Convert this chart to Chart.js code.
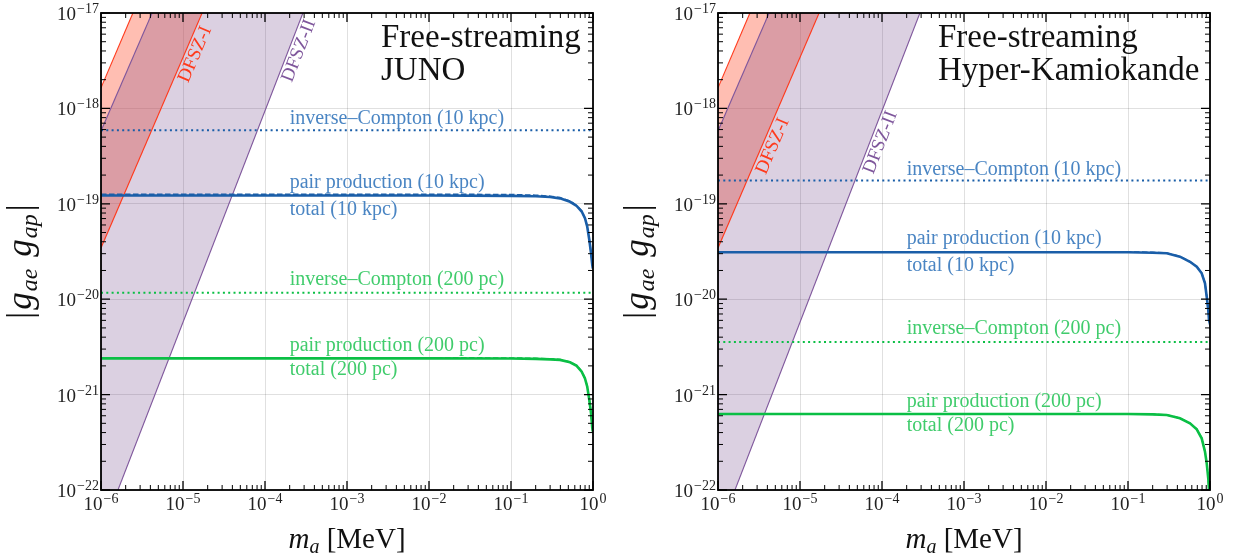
<!DOCTYPE html>
<html><head><meta charset="utf-8">
<script src="https://cdn.jsdelivr.net/npm/chart.js@4.4.1/dist/chart.umd.min.js"></script>
<style>
html,body{margin:0;padding:0;background:#fff;}
#wrap{position:relative;width:1237px;height:558px;overflow:hidden;}
canvas{position:absolute;top:0;}
</style></head><body>
<div id="wrap">
<canvas id="c1" width="618" height="558" style="left:0"></canvas>
<canvas id="c2" width="619" height="558" style="left:618px"></canvas>
</div>
<script>
// ---------- axis ticks ----------
const xTicks = [1e-6, 1e-5, 1e-4, 1e-3, 1e-2, 1e-1, 1];
const yTicks = [1e-22, 1e-21, 1e-20, 1e-19, 1e-18, 1e-17];

// ---------- DFSZ band boundaries (m [MeV], |g_ae g_ap|) ----------
const dfsz1UpperM = [1e-6, 2.45e-6];
const dfsz1UpperG = [1.64e-18, 1e-17];
const dfsz1LowerM = [1e-6, 1.71e-5];
const dfsz1LowerG = [3.44e-20, 1e-17];
const dfsz2UpperM = [1e-6, 4.2e-6];
const dfsz2UpperG = [5.8e-19, 1e-17];
const dfsz2LowerM = [1.61e-6, 2.9e-4];
const dfsz2LowerG = [1e-22, 1e-17];

// ---------- JUNO ----------
const junoMass = [1e-6,1e-5,1e-4,1e-3,1e-2,0.1,0.2,0.3,0.396,0.525,0.632,0.728,0.798,0.851,0.901,0.946,0.979,0.995];
const junoTotal10 = [1.22e-19,1.22e-19,1.22e-19,1.22e-19,1.22e-19,1.21e-19,1.20e-19,1.18e-19,1.14e-19,1.05e-19,9.5e-20,8.3e-20,7.05e-20,5.75e-20,4.2e-20,3.05e-20,2.3e-20,2.1e-20];
const junoPair10  = [1.26e-19,1.26e-19,1.26e-19,1.26e-19,1.26e-19,1.25e-19,1.23e-19,1.20e-19,1.16e-19,1.07e-19,9.6e-20,8.4e-20,7.1e-20,5.8e-20,4.25e-20,3.08e-20,2.32e-20,2.12e-20];
const junoTotal200 = [2.40e-21,2.40e-21,2.40e-21,2.40e-21,2.40e-21,2.39e-21,2.37e-21,2.34e-21,2.31e-21,2.18e-21,2.0e-21,1.74e-21,1.48e-21,1.21e-21,8.8e-22,6.4e-22,4.5e-22,4.1e-22];
const junoPair200  = [2.43e-21,2.43e-21,2.43e-21,2.43e-21,2.43e-21,2.42e-21,2.40e-21,2.37e-21,2.33e-21,2.20e-21,2.02e-21,1.75e-21,1.49e-21,1.22e-21,8.9e-22,6.45e-22,4.55e-22,4.12e-22];
const junoICMass = [1e-6, 1e-4, 1e-2, 1];
const junoIC10  = [5.9e-19, 5.9e-19, 5.9e-19, 5.9e-19];
const junoIC200 = [1.17e-20, 1.17e-20, 1.17e-20, 1.17e-20];

// ---------- Hyper-Kamiokande ----------
const hkMass = [1e-6,1e-5,1e-4,1e-3,1e-2,0.1,0.2,0.297,0.43,0.57,0.689,0.792,0.869,0.912,0.953,0.973,0.99];
const hkTotal10 = [3.10e-20,3.10e-20,3.10e-20,3.10e-20,3.10e-20,3.10e-20,3.07e-20,3.03e-20,2.79e-20,2.47e-20,2.19e-20,1.87e-20,1.47e-20,1.06e-20,7.7e-21,6.05e-21,5.7e-21];
const hkPair10  = [3.14e-20,3.14e-20,3.14e-20,3.14e-20,3.14e-20,3.13e-20,3.10e-20,3.05e-20,2.81e-20,2.48e-20,2.20e-20,1.88e-20,1.48e-20,1.07e-20,7.75e-21,6.1e-21,5.75e-21];
const hkTotal200 = [6.26e-22,6.26e-22,6.26e-22,6.26e-22,6.26e-22,6.26e-22,6.2e-22,6.11e-22,5.64e-22,5.0e-22,4.33e-22,3.48e-22,2.52e-22,1.90e-22,1.32e-22,1.0e-22,8.0e-23];
const hkPair200  = [6.3e-22,6.3e-22,6.3e-22,6.3e-22,6.3e-22,6.3e-22,6.23e-22,6.13e-22,5.66e-22,5.02e-22,4.35e-22,3.5e-22,2.53e-22,1.91e-22,1.33e-22,1.0e-22,8.0e-23];
const hkICMass = [1e-6, 1e-4, 1e-2, 1];
const hkIC10  = [1.75e-19, 1.75e-19, 1.75e-19, 1.75e-19];
const hkIC200 = [3.56e-21, 3.56e-21, 3.56e-21, 3.56e-21];

// ---------- text ----------
const labelMass = 2e-4;
const junoTitle = ['Free-streaming', 'JUNO'];
const hkTitle = ['Free-streaming', 'Hyper-Kamiokande'];

// ---------- styling ----------
const FONT = "'Liberation Serif', 'Times New Roman', serif";
const BLUE = '#1a5ea8', BLUE_T = '#4a85c3';
const GREEN = '#0bbf45', GREEN_T = '#40cc6c';
const RED = '#ff3a1c', PURPLE = '#7f579c';

function pts(ms, gs) { return ms.map((m, i) => ({x: m, y: gs[i]})); }
function expOf(v) { return Math.round(Math.log10(v)); }
function expText(n) { return String(n).replace('-', '\u2212'); }
function lineDs(data, color, width, dash, order) {
  return {data, borderColor: color, borderWidth: width, borderDash: dash || [], pointRadius: 0, fill: false, order, borderCapStyle: 'butt'};
}

function buildDatasets(p) {
  const redBand = [...pts(dfsz1UpperM, dfsz1UpperG), ...pts(dfsz1LowerM, dfsz1LowerG).reverse()];
  const purpleBand = [...pts(dfsz2UpperM, dfsz2UpperG), ...pts(dfsz2LowerM, dfsz2LowerG).reverse(), {x: xTicks[0], y: yTicks[0]}];
  return [
    lineDs(pts(p.mass, p.pair10), BLUE, 1.6, [5.5, 2.5], 0),
    lineDs(pts(p.mass, p.total10), BLUE, 2.6, [], 1),
    lineDs(pts(p.icMass, p.ic10), BLUE, 2, [2, 3.3], 2),
    lineDs(pts(p.mass, p.pair200), GREEN, 1.6, [5.5, 2.5], 3),
    lineDs(pts(p.mass, p.total200), GREEN, 2.6, [], 4),
    lineDs(pts(p.icMass, p.ic200), GREEN, 2, [2, 3.3], 5),
    lineDs(pts(dfsz1LowerM, dfsz1LowerG), RED, 1.1, [], 6),
    lineDs(pts(dfsz1UpperM, dfsz1UpperG), RED, 1.1, [], 7),
    lineDs(pts(dfsz2LowerM, dfsz2LowerG), PURPLE, 1.1, [], 8),
    lineDs(pts(dfsz2UpperM, dfsz2UpperG), PURPLE, 1.1, [], 9),
    {data: purpleBand, borderColor: 'transparent', borderWidth: 0, pointRadius: 0, fill: 'shape', backgroundColor: 'rgba(90,40,120,0.22)', order: 10},
    {data: redBand, borderColor: 'transparent', borderWidth: 0, pointRadius: 0, fill: 'shape', backgroundColor: 'rgba(255,99,71,0.42)', order: 11}
  ];
}

// parts: [{t, font, dy, gap}] drawn centred at x
function drawRich(ctx, parts, x, y) {
  let w = 0;
  parts.forEach(p => { ctx.font = p.font; w += ctx.measureText(p.t).width + (p.gap || 0); });
  let cx = x - w / 2;
  parts.forEach(p => { ctx.font = p.font; ctx.fillText(p.t, cx, y + (p.dy || 0)); cx += ctx.measureText(p.t).width + (p.gap || 0); });
}

const TICK_BASE = '19px ' + FONT, TICK_EXP = '14px ' + FONT;
function powerLabel(ctx, v, x, y, align) {
  const b = '10', e = expText(expOf(v));
  ctx.font = TICK_BASE; const wb = ctx.measureText(b).width;
  ctx.font = TICK_EXP; const we = ctx.measureText(e).width;
  const gap = 1;
  let x0 = align === 'right' ? x - wb - gap - we : x - (wb + gap + we) / 2;
  ctx.font = TICK_BASE; ctx.fillText(b, x0, y);
  ctx.font = TICK_EXP; ctx.fillText(e, x0 + wb + gap, y - 7);
}

const decor = {
  id: 'decor',
  afterDatasetsDraw(chart, args, o) {
    const ctx = chart.ctx, a = chart.chartArea, xs = chart.scales.x, ys = chart.scales.y;
    ctx.save();
    // curve labels
    ctx.textAlign = 'left'; ctx.textBaseline = 'alphabetic';
    ctx.font = '20px ' + FONT;
    const lx = xs.getPixelForValue(labelMass);
    o.labels.forEach(l => { ctx.fillStyle = l.color; ctx.fillText(l.text, lx, ys.getPixelForValue(l.g) + l.dy); });
    // DFSZ labels along lines
    o.dfsz.forEach(l => {
      const p0 = {x: xs.getPixelForValue(l.m[0]), y: ys.getPixelForValue(l.gv[0])};
      const p1 = {x: xs.getPixelForValue(l.m[1]), y: ys.getPixelForValue(l.gv[1])};
      const ang = Math.atan2(p1.y - p0.y, p1.x - p0.x);
      const py = ys.getPixelForValue(l.g);
      const t = (py - p0.y) / (p1.y - p0.y);
      const px = p0.x + t * (p1.x - p0.x);
      const d = 15;
      ctx.save();
      ctx.translate(px - Math.sin(ang) * d, py + Math.cos(ang) * d);
      ctx.rotate(ang);
      ctx.font = '19px ' + FONT;
      ctx.fillStyle = l.color;
      ctx.fillText(l.text, 0, 0);
      ctx.restore();
    });
    // title
    ctx.fillStyle = '#111';
    ctx.font = '33px ' + FONT;
    o.title.forEach((t, i) => ctx.fillText(t, a.left + o.titleDx, 47 + i * 33));
    // tick labels
    ctx.fillStyle = '#222';
    xTicks.forEach(v => powerLabel(ctx, v, xs.getPixelForValue(v), a.bottom + 20, 'center'));
    yTicks.forEach(v => powerLabel(ctx, v, a.left - 2, ys.getPixelForValue(v) + 7, 'right'));
    // inward ticks on all sides
    ctx.strokeStyle = '#000';
    const minors = [2,3,4,5,6,7,8,9];
    function tx(v, len, lw) {
      const p = xs.getPixelForValue(v);
      ctx.lineWidth = lw; ctx.beginPath();
      ctx.moveTo(p, a.bottom); ctx.lineTo(p, a.bottom - len);
      ctx.moveTo(p, a.top); ctx.lineTo(p, a.top + len);
      ctx.stroke();
    }
    function ty(v, len, lw) {
      const p = ys.getPixelForValue(v);
      ctx.lineWidth = lw; ctx.beginPath();
      ctx.moveTo(a.left, p); ctx.lineTo(a.left + len, p);
      ctx.moveTo(a.right, p); ctx.lineTo(a.right - len, p);
      ctx.stroke();
    }
    xTicks.forEach((v, i) => { tx(v, 9, 1.3); if (i < xTicks.length - 1) minors.forEach(k => tx(v * k, 5, 1)); });
    yTicks.forEach((v, i) => { ty(v, 9, 1.3); if (i < yTicks.length - 1) minors.forEach(k => ty(v * k, 5, 1)); });
    ctx.lineWidth = 1.8;
    ctx.strokeRect(a.left, a.top, a.right - a.left, a.bottom - a.top);
    ctx.restore();
  },
  afterDraw(chart) {
    const ctx = chart.ctx, a = chart.chartArea;
    ctx.save();
    ctx.fillStyle = '#111'; ctx.textBaseline = 'alphabetic';
    const big = '29px ' + FONT, bigI = 'italic 29px ' + FONT, subI = 'italic 20px ' + FONT;
    drawRich(ctx, [{t:'m', font: bigI}, {t:'a', font: subI, dy: 5}, {t:' [MeV]', font: big}], (a.left + a.right) / 2, 548);
    const yb = '35px ' + FONT, ybI = 'italic 35px ' + FONT, ysI = 'italic 24px ' + FONT;
    ctx.translate(a.left - 70, (a.top + a.bottom) / 2 + 10);
    ctx.rotate(-Math.PI / 2);
    drawRich(ctx, [{t:'|', font: yb, gap: 2}, {t:'g', font: ybI, gap: 1}, {t:'ae', font: ysI, dy: 6, gap: 3}, {t:' ', font: yb}, {t:'g', font: ybI, gap: 1}, {t:'ap', font: ysI, dy: 6, gap: 3}, {t:'|', font: yb}], 0, 0);
    ctx.restore();
  }
};

function makeChart(id, p, yWidth, padRight) {
  return new Chart(document.getElementById(id), {
    type: 'line',
    data: {datasets: buildDatasets(p)},
    plugins: [decor],
    options: {
      responsive: false, animation: false, events: [],
      layout: {padding: {left: 0, right: padRight, top: 13, bottom: 0}},
      plugins: {
        legend: {display: false}, tooltip: {enabled: false},
        decor: {labels: p.labels, dfsz: p.dfsz, title: p.title, titleDx: p.titleDx}
      },
      scales: {
        x: {
          type: 'logarithmic', min: xTicks[0], max: xTicks[xTicks.length - 1],
          afterBuildTicks: s => { s.ticks = xTicks.map(v => ({value: v})); },
          afterFit: s => { s.height = 68; },
          grid: {color: 'rgba(0,0,0,0.12)', lineWidth: 1, drawTicks: false},
          border: {display: false},
          ticks: {display: false}
        },
        y: {
          type: 'logarithmic', min: yTicks[0], max: yTicks[yTicks.length - 1],
          afterBuildTicks: s => { s.ticks = yTicks.map(v => ({value: v})); },
          afterFit: s => { s.width = yWidth; },
          grid: {color: 'rgba(0,0,0,0.12)', lineWidth: 1, drawTicks: false},
          border: {display: false},
          ticks: {display: false}
        }
      }
    }
  });
}

function panel(mass, total10, pair10, total200, pair200, icMass, ic10, ic200, title, titleDx, dfszG) {
  return {
    mass, total10, pair10, total200, pair200, icMass, ic10, ic200, title, titleDx,
    labels: [
      {text: 'inverse–Compton (10 kpc)', g: ic10[0], dy: -6, color: BLUE_T},
      {text: 'pair production (10 kpc)', g: total10[0], dy: -8, color: BLUE_T},
      {text: 'total (10 kpc)', g: total10[0], dy: 19, color: BLUE_T},
      {text: 'inverse–Compton (200 pc)', g: ic200[0], dy: -8, color: GREEN_T},
      {text: 'pair production (200 pc)', g: total200[0], dy: -7, color: GREEN_T},
      {text: 'total (200 pc)', g: total200[0], dy: 17, color: GREEN_T}
    ],
    dfsz: [
      {text: 'DFSZ-I', m: dfsz1LowerM, gv: dfsz1LowerG, g: dfszG, color: RED},
      {text: 'DFSZ-II', m: dfsz2LowerM, gv: dfsz2LowerG, g: dfszG, color: PURPLE}
    ]
  };
}

makeChart('c1', panel(junoMass, junoTotal10, junoPair10, junoTotal200, junoPair200, junoICMass, junoIC10, junoIC200, junoTitle, 280, 2.1e-18), 101, 25);
makeChart('c2', panel(hkMass, hkTotal10, hkPair10, hkTotal200, hkPair200, hkICMass, hkIC10, hkIC200, hkTitle, 220, 2.3e-19), 100, 27);
</script>
</body></html>
